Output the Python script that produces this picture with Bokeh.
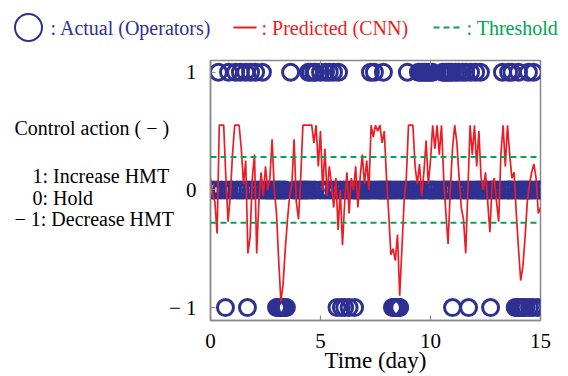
from bokeh.plotting import figure
from bokeh.layouts import column, row
from bokeh.models import Range1d, LinearAxis, FixedTicker, Span
from bokeh.core.properties import value
from bokeh.embed import file_html
from bokeh.resources import INLINE

# ---------------- data ----------------
x_ticks = [0, 5, 10, 15]
y_ticks = [-1, 0, 1]
y_tick_labels = {-1: "\u2212 1", 0: "0", 1: "1"}

threshold = 0.28

# operator actions (day of each sample), per action level
increase_days = [0.36, 0.82, 1.14, 1.36, 1.6, 1.82, 2.05, 2.36, 3.64, 4.45, 4.55, 4.7, 4.77, 5.0,
                 5.23, 5.4, 5.59, 5.82, 7.27, 7.45, 7.86, 8.95, 9.45, 9.55, 9.64, 9.73, 9.82,
                 9.91, 10.0, 10.09, 10.55, 10.64, 10.73, 10.82, 10.91, 11.0, 11.14, 11.27,
                 11.45, 11.6, 11.82, 12.05, 12.27, 13.27, 13.55, 13.7, 14.0, 14.45, 14.68]
hold_days = [0.0, 0.15, 0.3, 0.5, 0.7, 0.85, 1.0, 1.2, 1.35, 1.5, 1.7, 1.85, 2.0, 2.2, 2.35,
             2.5, 2.6, 2.7, 2.8, 2.9, 3.0, 3.1, 3.2, 3.3, 3.4, 3.8, 3.95, 4.05, 4.15, 4.25,
             4.35, 4.45, 4.6, 4.75, 5.0, 5.2, 5.4, 5.6, 5.75, 5.9, 6.05, 6.2, 6.35, 6.5, 6.6,
             6.7, 6.8, 6.9, 7.0, 7.1, 7.2, 7.3, 7.45, 7.6, 7.7, 7.8, 7.9, 8.0, 8.1, 8.2, 8.35,
             8.5, 8.65, 8.8, 8.95, 9.1, 9.2, 9.3, 9.4, 9.55, 9.7, 9.9, 10.0, 10.1, 10.2, 10.35,
             10.5, 10.6, 10.7, 10.8, 10.9, 11.0, 11.2, 11.35, 11.5, 11.65, 11.8, 11.95, 12.1,
             12.2, 12.3, 12.4, 12.5, 12.6, 12.75, 12.9, 13.05, 13.2, 13.35, 13.5, 13.6, 13.7,
             13.85, 14.0, 14.1, 14.2, 14.3, 14.4, 14.5, 14.6, 14.75, 14.9, 15.0]
decrease_days = [0.68, 1.68, 3.0, 3.05, 3.1, 3.15, 3.2, 3.25, 3.3, 3.35, 3.4, 3.45, 5.75, 5.95,
                 6.1, 6.3, 6.55, 8.27, 8.32, 8.37, 8.42, 8.47, 8.52, 8.57, 8.6, 11.0, 11.73,
                 12.73, 13.85, 13.95, 14.05, 14.15, 14.25, 14.35, 14.5, 14.65, 14.85]

# CNN prediction
pred_days = [0.0, 0.1, 0.2, 0.3, 0.4, 0.5, 0.6, 0.7, 0.8, 0.9, 1.0, 1.1, 1.2, 1.3, 1.4, 1.5,
             1.6, 1.7, 1.8, 1.9, 2.0, 2.1, 2.2, 2.3, 2.4, 2.5, 2.6, 2.7, 2.8, 2.9, 3.0, 3.1,
             3.2, 3.3, 3.4, 3.5, 3.6, 3.7, 3.8, 3.9, 4.0, 4.1, 4.2, 4.3, 4.4, 4.5, 4.6, 4.7,
             4.8, 4.9, 5.0, 5.1, 5.2, 5.3, 5.4, 5.5, 5.6, 5.7, 5.8, 5.9, 6.0, 6.1, 6.2, 6.3,
             6.4, 6.5, 6.6, 6.7, 6.8, 6.9, 7.0, 7.1, 7.2, 7.3, 7.4, 7.5, 7.6, 7.7, 7.8, 7.9,
             8.0, 8.1, 8.2, 8.3, 8.4, 8.5, 8.6, 8.7, 8.8, 8.9, 9.0, 9.1, 9.2, 9.3, 9.4, 9.5,
             9.6, 9.7, 9.8, 9.9, 10.0, 10.1, 10.2, 10.3, 10.4, 10.5, 10.6, 10.7, 10.8, 10.9,
             11.0, 11.1, 11.2, 11.3, 11.4, 11.5, 11.6, 11.7, 11.8, 11.9, 12.0, 12.1, 12.2,
             12.3, 12.4, 12.5, 12.6, 12.7, 12.8, 12.9, 13.0, 13.1, 13.2, 13.3, 13.4, 13.5,
             13.6, 13.7, 13.8, 13.9, 14.0, 14.1, 14.2, 14.3, 14.4, 14.5, 14.6, 14.7, 14.8,
             14.9, 15.0]
pred_values = [0.1, -0.05, -0.1, -0.37, 0.55, 0.55, 0.55, 0.1, -0.27, -0.05,
               0.3, 0.55, 0.55, 0.55, 0.35, 0.05, 0.25, -0.54, -0.4, 0.1,
               0.3, -0.54, -0.1, 0.15, -0.05, 0.2, 0.0, 0.1, 0.43, 0.0,
               -0.2, -0.6, -0.95, -0.8, -0.5, -0.25, -0.05, 0.05, 0.43, -0.1,
               -0.25, 0.1, 0.55, 0.55, 0.55, 0.55, 0.55, 0.4, 0.55, 0.2,
               0.5, 0.0, 0.35, -0.05, 0.2, 0.05, -0.15, 0.1, -0.34, 0.0,
               -0.47, -0.1, 0.15, -0.2, 0.1, 0.0, 0.2, -0.15, 0.1, 0.3,
               0.05, 0.25, 0.0, 0.55, 0.45, 0.55, 0.5, 0.55, 0.4, 0.5,
               0.1, -0.2, -0.55, -0.5, -0.6, -0.38, -0.9, -0.5, -0.1, 0.1,
               0.55, 0.55, 0.55, 0.2, 0.05, 0.22, -0.05, 0.15, 0.42, 0.05,
               0.25, 0.55, 0.35, 0.55, 0.3, 0.55, 0.1, -0.2, -0.46, 0.0,
               0.35, 0.55, 0.4, 0.1, -0.15, -0.25, -0.54, 0.0, 0.55, 0.3,
               0.55, 0.2, 0.5, 0.1, 0.0, 0.15, -0.1, -0.36, 0.05, 0.1,
               -0.1, -0.27, 0.3, 0.55, 0.2, 0.55, 0.3, 0.1, 0.15, -0.2,
               -0.5, -0.77, -0.65, -0.4, -0.1, 0.05, 0.15, 0.22, 0.1, -0.2,
               -0.15]

legend_texts = [": Actual (Operators)", ": Predicted (CNN)", ": Threshold"]
side_texts = ["Control action ( \u2212 )", "1: Increase HMT", "0: Hold",
              "\u2212 1: Decrease HMT"]
x_label = "Time (day)"

# ---------------- style ----------------
FONT = "Liberation Serif"
FS = "20px"
TICK_FS = "21px"
BLUE = "#2E3192"
RED = "#ED1C24"
GREEN = "#00A651"
GRAY = "#8A8A8A"


def blank(w, h):
    f = figure(width=w, height=h, x_range=Range1d(0, w), y_range=Range1d(0, h),
               output_backend="svg", toolbar_location=None, min_border=0,
               x_axis_location=None, y_axis_location=None)
    f.grid.visible = False
    f.outline_line_color = None
    f.frame_align = False
    return f


# ---------------- legend strip (pixel coordinates) ----------------
leg = blank(568, 52)
leg.scatter([28], [25], size=27, fill_color=None, line_color=BLUE, line_width=2)
leg.line([233, 256], [25, 25], line_color=RED, line_width=2)
leg.line([433, 460], [25, 25], line_color=GREEN, line_width=2, line_dash="6 4")
leg.text([50, 261, 466], [25, 25, 25], text=legend_texts,
         text_color=[BLUE, RED, GREEN], text_font=value(FONT), text_font_size=FS,
         text_baseline="middle", text_align="left")

# ---------------- side text (pixel coordinates) ----------------
side = blank(190, 332)
side.background_fill_color = None
side.border_fill_color = None
side.text([14, 32, 32, 14], [257, 209, 187, 166], text=side_texts, text_color="black",
          text_font=value(FONT), text_font_size=FS, text_baseline="middle",
          text_align="left")

# ---------------- main plot ----------------
p = figure(width=418, height=332, x_range=Range1d(0, 15), y_range=Range1d(-1.11, 1.10),
           output_backend="svg", toolbar_location=None,
           min_border_left=60, min_border_right=28, min_border_top=8, min_border_bottom=64)
p.frame_align = False
p.margin = (0, 0, 0, -40)
p.border_fill_color = None
p.background_fill_color = "white"
p.grid.visible = False
p.outline_line_color = GRAY
p.outline_line_width = 1.5

for days, lvl in ((increase_days, 1), (hold_days, 0), (decrease_days, -1)):
    p.scatter(days, [lvl] * len(days), size=16, fill_color=None,
              line_color=BLUE, line_width=3)

for loc in (threshold, -threshold):
    p.add_layout(Span(location=loc, dimension="width", line_color=GREEN, line_width=2,
                      line_dash="6 4"))

p.line(pred_days, pred_values, line_color=RED, line_width=1.7)

for ax in (p.xaxis[0], p.yaxis[0]):
    ax.axis_line_color = GRAY
    ax.axis_line_width = 1.5
    ax.major_tick_line_color = GRAY
    ax.major_tick_line_width = 1.2
    ax.major_tick_in = 5
    ax.major_tick_out = 0
    ax.minor_tick_line_color = None
    ax.major_label_text_font = FONT
    ax.major_label_text_font_size = TICK_FS
    ax.major_label_text_color = "black"

p.xaxis.ticker = FixedTicker(ticks=x_ticks)
p.xaxis.major_label_standoff = 13
p.xaxis.axis_label = x_label
p.xaxis.axis_label_text_font = FONT
p.xaxis.axis_label_text_font_size = "23px"
p.xaxis.axis_label_text_font_style = "normal"
p.xaxis.axis_label_text_color = "black"
p.xaxis.axis_label_standoff = -3

p.yaxis.ticker = FixedTicker(ticks=y_ticks)
p.yaxis.major_label_overrides = y_tick_labels
p.yaxis.major_label_standoff = 14

top = LinearAxis(ticker=FixedTicker(ticks=x_ticks),
                 major_label_overrides={t: "" for t in x_ticks},
                 axis_line_color=None, major_tick_line_color=GRAY, major_tick_line_width=1.2,
                 major_tick_in=5, major_tick_out=0, minor_tick_line_color=None,
                 major_label_standoff=0)
p.add_layout(top, "above")

layout = column(leg, row(side, p, spacing=0), spacing=0)
open("out.html", "w").write(file_html(layout, INLINE))
